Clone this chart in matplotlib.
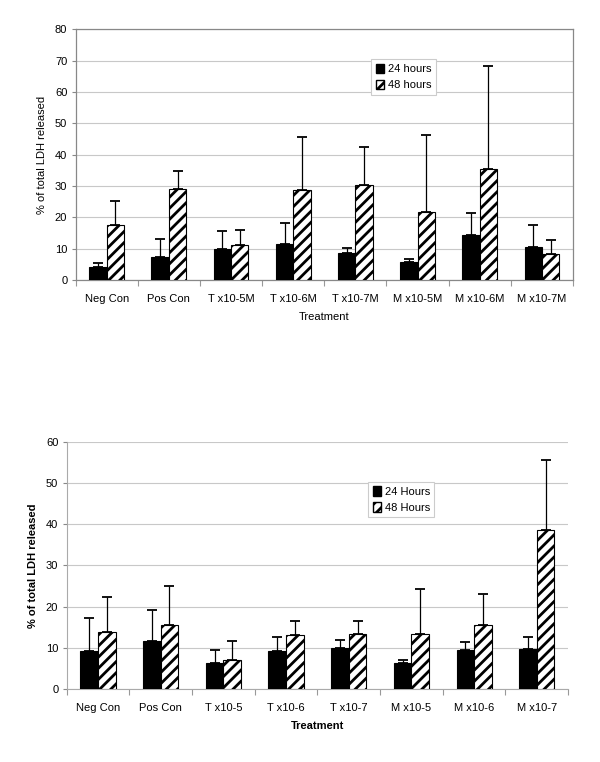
import numpy as np
import matplotlib
matplotlib.use("Agg")
import matplotlib.pyplot as plt
from matplotlib.patches import Patch

plt.rcParams['font.family'] = ['Liberation Sans', 'DejaVu Sans']
plt.rcParams['hatch.linewidth'] = 2.0

# Top panel data
top_labels = ["Neg Con", "Pos Con", "T x10-5M", "T x10-6M", "T x10-7M",
              "M x10-5M", "M x10-6M", "M x10-7M"]
top_24 = [4.3, 7.5, 9.8, 11.5, 8.7, 5.7, 14.5, 10.7]
top_24_err = [1.0, 5.7, 5.9, 6.7, 1.5, 1.0, 6.9, 6.8]
top_48 = [17.7, 29.1, 11.1, 28.8, 30.2, 21.7, 35.5, 8.3]
top_48_err = [7.5, 5.6, 4.8, 16.9, 12.4, 24.7, 32.8, 4.6]

# Bottom panel data
bot_labels = ["Neg Con", "Pos Con", "T x10-5", "T x10-6", "T x10-7",
              "M x10-5", "M x10-6", "M x10-7"]
bot_24 = [9.25, 11.6, 6.2, 9.25, 9.8, 6.3, 9.3, 9.7]
bot_24_err = [7.95, 7.6, 3.3, 3.45, 2.1, 0.6, 2.0, 2.8]
bot_48 = [13.8, 15.5, 7.0, 13.0, 13.2, 13.4, 15.6, 38.6]
bot_48_err = [8.6, 9.6, 4.7, 3.5, 3.4, 10.8, 7.4, 17.1]

GRID = "#c8c8c8"
FS = 8


def panel(ax, labels, v24, e24, v48, e48, ymax, leg_names, leg_pos, bold):
    n = len(labels)
    x = np.arange(n) + 0.5
    w = 0.28
    ekw = dict(ecolor="black", elinewidth=0.9, capsize=3.5, capthick=1.3)
    ax.bar(x - w / 2, v24, w, color="black", edgecolor="black", lw=0.8,
           yerr=[np.zeros(n), e24], error_kw=ekw, zorder=3)
    ax.bar(x + w / 2, v48, w, color="white", edgecolor="black", lw=0.8,
           hatch="///", yerr=[np.zeros(n), e48], error_kw=ekw, zorder=3)
    ax.set_xlim(0, n)
    ax.set_ylim(0, ymax)
    ax.set_yticks(np.arange(0, ymax + 1, 10))
    ax.yaxis.grid(True, color=GRID, lw=0.8, zorder=0)
    ax.set_axisbelow(True)
    ax.set_xticks(np.arange(n + 1))
    ax.set_xticklabels([])
    ax.set_xticks(x, minor=True)
    ax.set_xticklabels(labels, minor=True, fontsize=FS)
    ax.tick_params(axis="x", which="major", length=4, color="#999999")
    ax.tick_params(axis="x", which="minor", length=0, pad=10)
    ax.tick_params(axis="y", length=3, color="#888888", labelsize=FS, pad=3)
    weight = "bold" if bold else "normal"
    ax.set_xlabel("Treatment", fontsize=FS, fontweight=weight, labelpad=6)
    ax.set_ylabel("% of total LDH released", fontsize=FS, fontweight=weight,
                  labelpad=6)
    handles = [Patch(facecolor="black", edgecolor="black"),
               Patch(facecolor="white", edgecolor="black", hatch="///")]
    leg = ax.legend(handles, leg_names, loc="upper left",
                    bbox_to_anchor=leg_pos, fontsize=FS, frameon=True,
                    fancybox=False, edgecolor="#cccccc", framealpha=1,
                    handlelength=0.8, handleheight=0.9, handletextpad=0.3,
                    borderpad=0.4, labelspacing=0.5, borderaxespad=0)
    leg.get_frame().set_linewidth(0.8)


fig = plt.figure(figsize=(6.0, 7.62), dpi=100)

ax1 = fig.add_axes([0.126, 0.6325, 0.829, 0.329])
panel(ax1, top_labels, top_24, top_24_err, top_48, top_48_err, 80,
      ["24 hours", "48 hours"], (0.594, 0.881), False)
for s in ax1.spines.values():
    s.set_color("#888888")
    s.set_linewidth(0.9)

ax2 = fig.add_axes([0.111, 0.0962, 0.836, 0.3234])
panel(ax2, bot_labels, bot_24, bot_24_err, bot_48, bot_48_err, 60,
      ["24 Hours", "48 Hours"], (0.601, 0.839), True)
ax2.spines["top"].set_visible(False)
ax2.spines["right"].set_visible(False)
ax2.spines["left"].set_color("#aaaaaa")
ax2.spines["bottom"].set_color("#aaaaaa")

fig.savefig("out.png", dpi=100)
